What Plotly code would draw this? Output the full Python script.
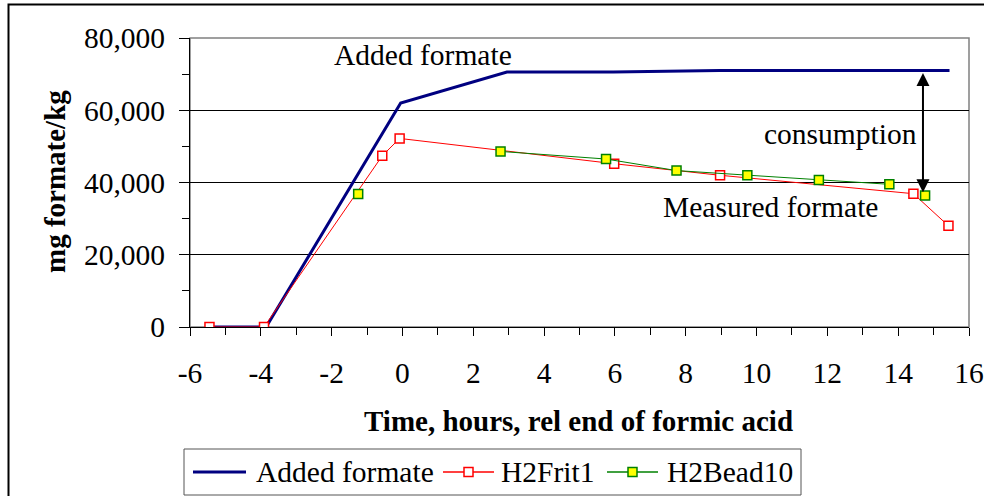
import plotly.graph_objects as go

# ---- data ----
added_x = [-5.45, -3.85, -0.05, 2.95, 5.95, 8.95, 14.45, 15.45]
added_y = [0, 0, 62000, 70600, 70600, 71000, 71000, 71000]

frit_x = [-5.45, -3.91, -0.57, -0.08, 5.98, 8.97, 14.43, 15.42]
frit_y = [0, 0, 47400, 52200, 45200, 42000, 36900, 28000]

bead_x = [-1.25, None, 2.77, 5.75, 7.74, 9.74, 11.76, 13.75, None, 14.76]
bead_y = [36800, None, 48600, 46500, 43300, 42000, 40700, 39500, None, 36400]

x_ticks = [-6, -4, -2, 0, 2, 4, 6, 8, 10, 12, 14, 16]
y_ticks = [0, 20000, 40000, 60000, 80000]
y_tick_labels = ["0", "20,000", "40,000", "60,000", "80,000"]

series_names = ["Added formate", "H2Frit1", "H2Bead10"]

arrow_x = 14.7
arrow_top = 70700
arrow_bottom = 37300

FONT = "Liberation Serif"
FS = 29.5
FSB = 29

NAVY, RED, GREEN, YELLOW = "#000080", "#FF0000", "#008000", "#FFFF00"

# plot area in pixels
L, R, T, B = 190, 969, 38, 327
W, H = R - L, B - T


def px(xp):
    return (xp - L) / W


def py(yp):
    return (B - yp) / H


fig = go.Figure()
fig.add_trace(go.Scatter(x=added_x, y=added_y, mode="lines", name=series_names[0],
                         showlegend=False, line=dict(color=NAVY, width=3)))
fig.add_trace(go.Scatter(x=frit_x, y=frit_y, mode="lines+markers", name=series_names[1],
                         showlegend=False,
                         line=dict(color=RED, width=1),
                         marker=dict(symbol="square", size=9, color="white",
                                     line=dict(color=RED, width=1.5))))
fig.add_trace(go.Scatter(x=bead_x, y=bead_y, mode="lines+markers", name=series_names[2],
                         connectgaps=False, showlegend=False,
                         line=dict(color=GREEN, width=1),
                         marker=dict(symbol="square", size=9, color=YELLOW,
                                     line=dict(color=GREEN, width=1.5))))

fig.update_layout(
    width=984, height=496,
    margin=dict(l=L, r=984 - R, t=T, b=496 - B, autoexpand=False),
    paper_bgcolor="white", plot_bgcolor="white",
    font=dict(family=FONT, size=FS, color="black"),
    showlegend=False,
    xaxis=dict(range=[-6, 16], tickvals=x_ticks, ticktext=[str(v) for v in x_ticks],
               automargin=False,
               showgrid=False, zeroline=False, showline=True, linecolor="black", linewidth=1,
               ticks="outside", ticklen=8, tickcolor="black", tickwidth=1,
               minor=dict(dtick=1, ticks="outside", ticklen=7, tickcolor="black", showgrid=False),
               ticklabelstandoff=12,
               tickfont=dict(family=FONT, size=FS, color="black")),
    yaxis=dict(range=[0, 80000], tickvals=y_ticks, ticktext=y_tick_labels,
               automargin=False,
               showgrid=True, gridcolor="black", gridwidth=1, zeroline=False,
               showline=True, linecolor="black", linewidth=1,
               ticks="outside", ticklen=10, tickcolor="black", tickwidth=1,
               minor=dict(dtick=10000, ticks="outside", ticklen=7, tickcolor="black", showgrid=False),
               ticklabelstandoff=8,
               tickfont=dict(family=FONT, size=FS, color="black")),
    yaxis2=dict(range=[0, 80000], overlaying="y", side="left", tickvals=y_ticks,
                automargin=False,
                showticklabels=False, showgrid=False, zeroline=False, showline=False,
                ticks="inside", ticklen=8, tickcolor="black", tickwidth=1),
)

# axis titles
fig.add_annotation(xref="paper", yref="paper", x=px(578.5), y=py(421),
                   text="Time, hours, rel end of formic acid", showarrow=False,
                   xanchor="center", yanchor="middle",
                   font=dict(family=FONT, size=FSB, color="black", weight="bold"))
fig.add_annotation(xref="paper", yref="paper", x=px(55), y=py(182),
                   text="mg formate/kg", showarrow=False, textangle=-90,
                   xanchor="center", yanchor="middle",
                   font=dict(family=FONT, size=FSB, color="black", weight="bold"))

# plot-area border (grey) and outer chart border
fig.add_shape(type="rect", xref="paper", yref="paper", x0=0, x1=1, y0=0, y1=1,
              line=dict(color="#808080", width=1.5), layer="below")
fig.add_shape(type="rect", xref="paper", yref="paper",
              x0=px(8.5), x1=px(1010), y0=py(520), y1=py(4.5),
              line=dict(color="black", width=2))

# text annotations in the plot
fig.add_annotation(x=0.57, y=75300, text="Added formate", showarrow=False,
                   font=dict(family=FONT, size=FS, color="black"))
fig.add_annotation(x=12.36, y=53500, text="consumption", showarrow=False,
                   font=dict(family=FONT, size=FS, color="black"))
fig.add_annotation(x=10.4, y=33200, text="Measured formate", showarrow=False,
                   font=dict(family=FONT, size=FS, color="black"))

# double-headed arrow
fig.add_annotation(x=arrow_x, y=arrow_bottom, ax=arrow_x, ay=arrow_top,
                   xref="x", yref="y", axref="x", ayref="y", text="",
                   showarrow=True, arrowhead=2, startarrowhead=2, arrowside="end+start",
                   arrowsize=1.3, startarrowsize=1.3, arrowwidth=2, arrowcolor="black",
                   standoff=0, startstandoff=0)

# ---- legend (drawn manually to match sample lengths) ----
fig.add_shape(type="rect", xref="paper", yref="paper",
              x0=px(184), x1=px(801), y0=py(495), y1=py(449),
              line=dict(color="#555555", width=1), fillcolor="white")
ly = 472
legend_items = [
    (193, 246, 254, NAVY, 3, None, None),
    (443, 494, 499, RED, 1.5, "white", RED),
    (607, 658, 665, GREEN, 1.5, YELLOW, GREEN),
]
for (x0, x1, tx, col, lw, mfill, mline), name in zip(legend_items, series_names):
    fig.add_shape(type="line", xref="paper", yref="paper",
                  x0=px(x0), x1=px(x1), y0=py(ly), y1=py(ly),
                  line=dict(color=col, width=lw))
    if mfill is not None:
        cx = (x0 + x1) / 2
        fig.add_shape(type="rect", xref="paper", yref="paper",
                      x0=px(cx - 4.5), x1=px(cx + 4.5), y0=py(ly + 4.5), y1=py(ly - 4.5),
                      line=dict(color=mline, width=1.5), fillcolor=mfill)
    fig.add_annotation(xref="paper", yref="paper", x=px(tx), y=py(ly), text=name,
                       showarrow=False, xanchor="left", yanchor="middle",
                       font=dict(family=FONT, size=FS, color="black"))

fig.write_html("out.html",
               config={"displayModeBar": False},
               post_script="document.body.style.margin='0px';document.body.style.overflow='hidden';")
